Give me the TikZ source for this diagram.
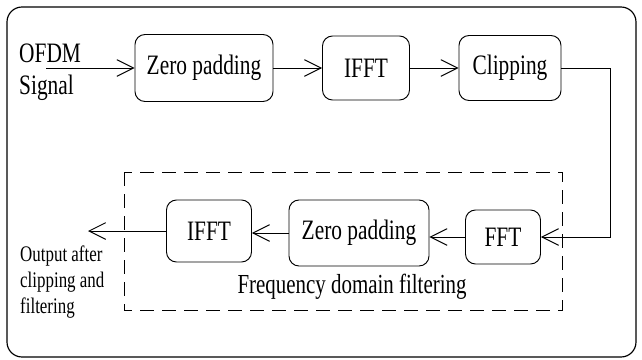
\documentclass[tikz,border=0pt]{standalone}
\usepackage{fontspec}
\setmainfont{Liberation Serif}[FakeStretch=0.76]
\usetikzlibrary{arrows.meta}

\begin{document}
\begin{tikzpicture}[x=0.03cm, y=-0.03cm,
  blk/.style={draw, rounded corners=0.3cm, line width=0.8pt, inner sep=0pt,
    font=\fontsize{24}{28}\selectfont},
  arr/.style={line width=0.8pt, -{Straight Barb[length=0.5cm, width=0.5cm]}},
  note/.style={align=left, inner sep=0pt}]

% Frame
\useasboundingbox (0,0) rectangle (642,359);
\draw[line width=1pt, rounded corners=0.45cm] (7,7) rectangle (636,357);

% Forward path
\node[note, anchor=north west, font=\fontsize{24}{27}\selectfont] (sig) at (19,44) {OFDM\\Signal};
\coordinate (in) at (46,68);
\node[blk, minimum width=4.14cm, minimum height=2.01cm] (zp1) at (204,68) {Zero padding};
\node[blk, minimum width=2.61cm, minimum height=1.92cm] (ifft1) at (366,68) {IFFT};
\node[blk, minimum width=3.06cm, minimum height=1.95cm] (clip) at (510,68) {Clipping};
\coordinate (turn) at (610,68);

% Frequency domain filtering
\draw[line width=0.8pt, dash pattern=on 0.42cm off 0.24cm] (124,172) rectangle (562,310);
\node[font=\fontsize{23.5}{26}\selectfont] (flbl) at (352,287) {Frequency domain filtering};
\node[blk, minimum width=2.25cm, minimum height=1.62cm] (fft) at (503,237) {FFT};
\node[blk, minimum width=4.2cm, minimum height=1.98cm] (zp2) at (359,233) {Zero padding};
\node[blk, minimum width=2.55cm, minimum height=1.86cm] (ifft2) at (209,231) {IFFT};
\coordinate (out) at (88,231);
\node[note, anchor=north west, font=\fontsize{19}{22}\selectfont] (res) at (20,246) {Output after\\clipping and\\filtering};

% Connectors
\draw[arr] (in) -- (zp1);
\draw[arr] (zp1) -- (ifft1);
\draw[arr] (ifft1) -- (clip);
\draw[arr] (clip) -- (turn) |- (fft);
\draw[arr] (fft.west) -- (fft.west -| zp2.east);
\draw[arr] (zp2.west) -- (zp2.west -| ifft2.east);
\draw[arr] (ifft2) -- (out);

\end{tikzpicture}
\end{document}
